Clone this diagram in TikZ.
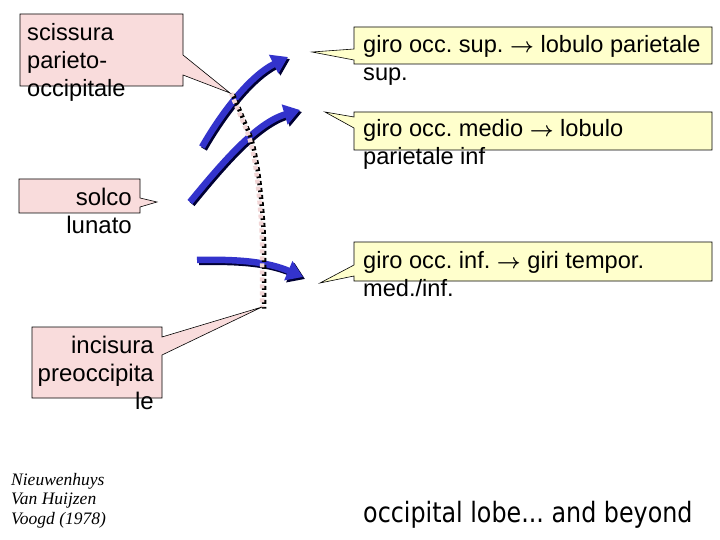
\documentclass[tikz,border=0pt]{standalone}
\usepackage{fontspec}
\setmainfont{Liberation Sans}
\newfontfamily\serifit{Liberation Serif}
\newfontfamily\condfont[FakeStretch=0.85]{DejaVu Sans}
\newcommand{\rarr}{{\fontsize{22}{28}\selectfont\boldmath$\rightarrow$}}
\frenchspacing
\usetikzlibrary{arrows.meta}
\definecolor{pinkfill}{HTML}{F9DCDC}
\definecolor{yellowfill}{HTML}{FFFFCC}
\definecolor{arrowblue}{HTML}{3333CC}
\definecolor{shadownavy}{HTML}{000033}
\definecolor{dotpink}{HTML}{F2D6D6}
\begin{document}
\begin{tikzpicture}[x=1pt,y=-1pt,
  pinkcall/.style={fill=pinkfill,draw=black,line width=0.6pt,line join=miter},
  yellowcall/.style={fill=yellowfill,draw=black,line width=0.6pt,line join=miter},
  labeltext/.style={font=\fontsize{23.6}{28}\selectfont,inner sep=0pt,align=left},
  labelright/.style={font=\fontsize{24}{28}\selectfont,inner sep=0pt,align=right},
  gyrus/.style={line width=6.5pt,draw=arrowblue,-{Triangle[length=16pt,width=20pt,fill=arrowblue]}},
  gyrusshadow/.style={line width=6.5pt,draw=shadownavy,-{Triangle[length=16pt,width=20pt,fill=shadownavy]},shift={(2,2)}},
  sulcusshadow/.style={draw=black,line width=4.5pt,dash pattern=on 4pt off 3pt,shift={(2,1.5)}},
  sulcuspink/.style={draw=dotpink,line width=4.5pt,dash pattern=on 4pt off 3pt},
  creditstyle/.style={font=\serifit\itshape\fontsize{17.5}{19.5}\selectfont,inner sep=0pt,align=left},
  titlestyle/.style={font=\condfont\fontsize{28}{32}\selectfont,inner sep=0pt}]
\useasboundingbox (0,0) rectangle (720,540);
\fill[white] (0,0) rectangle (720,540);

% gyri arrows (shadow, then blue)
\draw[gyrusshadow] (202,147) .. controls (222,112) and (250,76) .. (288,57);
\draw[gyrus] (202,147) .. controls (222,112) and (250,76) .. (288,57);
\draw[gyrusshadow] (190,202) .. controls (222,163) and (256,123) .. (300,110);
\draw[gyrus] (190,202) .. controls (222,163) and (256,123) .. (300,110);
\draw[gyrusshadow] (197,260) .. controls (240,259) and (268,262) .. (303,277);
\draw[gyrus] (197,260) .. controls (240,259) and (268,262) .. (303,277);

% sulcus lunatus / dotted line
\draw[sulcusshadow] plot[smooth] coordinates {(231,93) (241,117) (250,140) (256,170) (260,207) (262,240) (262,270) (262,307)};
\draw[sulcuspink] plot[smooth] coordinates {(231,93) (241,117) (250,140) (256,170) (260,207) (262,240) (262,270) (262,307)};

% pink callouts
\path[pinkcall] (20,14) -- (183,14) -- (183,55) -- (230,93) -- (183,75) -- (183,86) -- (20,86) -- cycle;
\path[pinkcall] (19,179) -- (140,179) -- (140,198) -- (157,202) -- (140,207) -- (140,213) -- (19,213) -- cycle;
\path[pinkcall] (32,327) -- (162,327) -- (162,337) -- (262,307) -- (162,355) -- (162,398) -- (32,398) -- cycle;

% yellow callouts
\path[yellowcall] (354,27) -- (712,27) -- (712,64) -- (354,64) -- (354,60) -- (312,52) -- (354,49) -- cycle;
\path[yellowcall] (354,112) -- (712,112) -- (712,150) -- (354,150) -- (354,128) -- (325,112) -- (354,117) -- cycle;
\path[yellowcall] (354,242) -- (712,242) -- (712,281) -- (354,281) -- (354,276) -- (320,283) -- (354,265) -- cycle;

% texts
\node[labeltext,anchor=north west] (scissura) at (27,20.4) {\strut scissura\\parieto-\\occipitale};
\node[labelright,anchor=north east] (solco) at (132,185.4) {\strut solco\\lunato};
\node[labelright,anchor=north east] (incisura) at (154,333.4) {\strut incisura\\preoccipita\\le};
\node[labeltext,anchor=north west] (girosup) at (363,32.4) {\strut giro occ. sup. \rarr{} lobulo parietale\\sup.};
\node[labeltext,anchor=north west] (giromed) at (363,116.4) {\strut giro occ. medio \rarr{} lobulo\\parietale inf};
\node[labeltext,anchor=north west] (giroinf) at (363,248.4) {\strut giro occ. inf. \rarr{} giri tempor.\\med./inf.};

\node[creditstyle,anchor=north west] (credit) at (11,471.4) {\strut Nieuwenhuys\\Van Huijzen\\Voogd (1978)};
\node[titlestyle,anchor=base west] (title) at (363,522) {occipital lobe... and beyond};
\end{tikzpicture}
\end{document}
